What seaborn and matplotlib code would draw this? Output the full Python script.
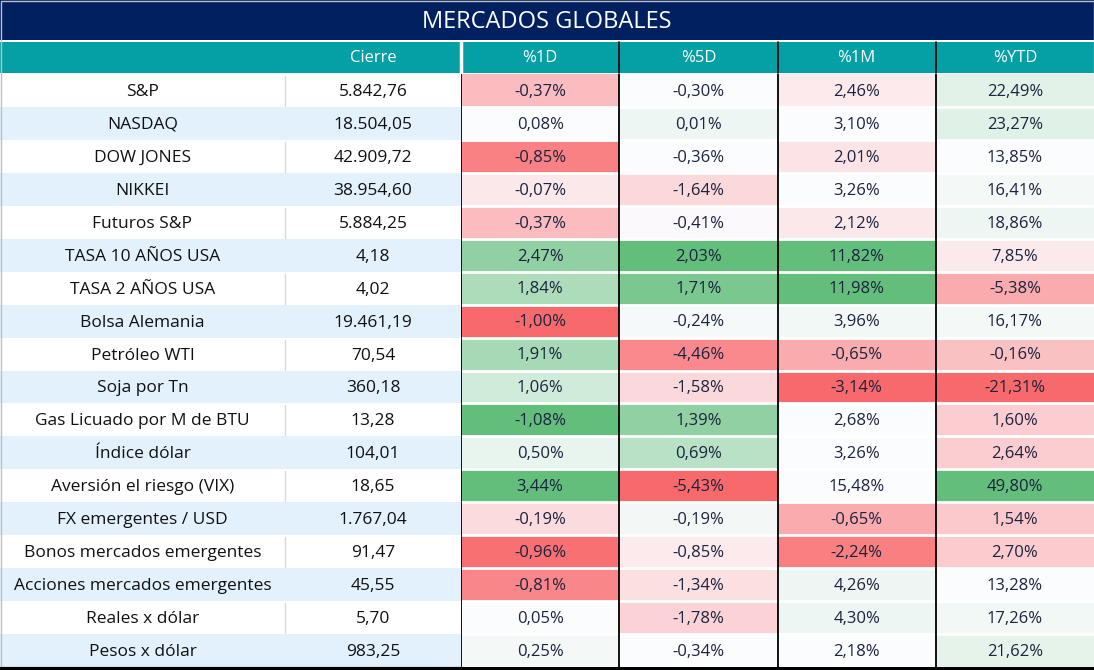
import numpy as np
import matplotlib
matplotlib.use("Agg")
import matplotlib.pyplot as plt
import seaborn as sns
from matplotlib.colors import LinearSegmentedColormap
from matplotlib.patches import Rectangle

sns.set_theme(style="white")
plt.rcParams['font.family'] = ['Open Sans', 'DejaVu Sans']

title = "MERCADOS GLOBALES"
columns = ["%1D", "%5D", "%1M", "%YTD"]
names = ["S&P", "NASDAQ", "DOW JONES", "NIKKEI", "Futuros S&P", "TASA 10 AÑOS USA",
         "TASA 2 AÑOS USA", "Bolsa Alemania", "Petróleo WTI", "Soja por Tn",
         "Gas Licuado por M de BTU", "Índice dólar", "Aversión el riesgo (VIX)",
         "FX emergentes / USD", "Bonos mercados emergentes", "Acciones mercados emergentes",
         "Reales x dólar", "Pesos x dólar"]
cierre = ["5.842,76", "18.504,05", "42.909,72", "38.954,60", "5.884,25", "4,18", "4,02",
          "19.461,19", "70,54", "360,18", "13,28", "104,01", "18,65", "1.767,04",
          "91,47", "45,55", "5,70", "983,25"]
pct_1d = ["-0,37%", "0,08%", "-0,85%", "-0,07%", "-0,37%", "2,47%", "1,84%", "-1,00%", "1,91%",
          "1,06%", "-1,08%", "0,50%", "3,44%", "-0,19%", "-0,96%", "-0,81%", "0,05%", "0,25%"]
pct_5d = ["-0,30%", "0,01%", "-0,36%", "-1,64%", "-0,41%", "2,03%", "1,71%", "-0,24%", "-4,46%",
          "-1,58%", "1,39%", "0,69%", "-5,43%", "-0,19%", "-0,85%", "-1,34%", "-1,78%", "-0,34%"]
pct_1m = ["2,46%", "3,10%", "2,01%", "3,26%", "2,12%", "11,82%", "11,98%", "3,96%", "-0,65%",
          "-3,14%", "2,68%", "3,26%", "15,48%", "-0,65%", "-2,24%", "4,26%", "4,30%", "2,18%"]
pct_ytd = ["22,49%", "23,27%", "13,85%", "16,41%", "18,86%", "7,85%", "-5,38%", "16,17%", "-0,16%",
           "-21,31%", "1,60%", "2,64%", "49,80%", "1,54%", "2,70%", "13,28%", "17,26%", "21,62%"]
# colour-scale intensity (-1 red ... 0 white ... +1 green)
shade_1d = [-0.43, 0.0, -0.83, -0.14, -0.43, 0.7, 0.52, -1.0, 0.56, 0.28, 1.0, 0.13, 1.0,
            -0.22, -0.95, -0.8, 0.0, 0.05]
shade_5d = [0.0, 0.1, 0.0, -0.25, -0.02, 1.0, 0.85, 0.04, -0.78, -0.25, 0.7, 0.43, -1.0,
            0.06, -0.12, -0.2, -0.28, 0.0]
shade_1m = [-0.12, 0.0, -0.17, 0.0, -0.14, 1.0, 1.0, 0.07, -0.55, -1.0, 0.0, 0.0, 0.0,
            -0.55, -0.85, 0.1, 0.1, 0.0]
shade_ytd = [0.17, 0.18, 0.0, 0.05, 0.1, -0.13, -0.55, 0.05, -0.4, -1.0, -0.32, -0.32, 1.0,
             -0.35, -0.33, 0.0, 0.07, 0.15]

W, H = 1094, 670
fig = plt.figure(figsize=(W / 100, H / 100), dpi=100)
bg = fig.add_axes([0, 0, 1, 1])
bg.set_xlim(0, W)
bg.set_ylim(H, 0)
bg.axis('off')

navy = "#002060"
teal = "#05A0A5"
lightblue = "#E3F1FC"
x_name, x_cierre, x_vals = 0, 285, 461
top_rows, bot_rows = 74, 667
n = len(names)
rh = (bot_rows - top_rows) / n
fs = 12.5

# title bar
bg.add_patch(Rectangle((0, 0), W, 40, color=navy, lw=0))
bg.text(W / 2, 21.5, title, color="white", fontsize=17, ha="center", va="center")

# header
hy, hh = 42, 31
bg.add_patch(Rectangle((0, hy), x_vals, hh, color=teal, lw=0))
bg.text((x_cierre + x_vals) / 2, hy + hh / 2 + 1, "Cierre", color="white", fontsize=12, ha="center", va="center")
cw = (W - x_vals) / len(columns)
for i, c in enumerate(columns):
    x0 = x_vals + i * cw
    bg.add_patch(Rectangle((x0, hy), cw, hh, color=teal, lw=0))
    bg.text(x0 + cw / 2, hy + hh / 2 + 1, c, color="white", fontsize=12, ha="center", va="center")
    if i > 0:
        bg.plot([x0, x0], [hy, hy + hh], color="black", lw=1.2)
bg.plot([x_vals - 0.5, x_vals - 0.5], [hy, hy + hh], color="white", lw=2.5)

# left rows
for r in range(n):
    y0 = top_rows + r * rh
    if r % 2 == 1:
        bg.add_patch(Rectangle((0, y0), x_vals, rh, color=lightblue, lw=0))
    else:
        bg.plot([x_cierre, x_cierre], [y0 + 2, y0 + rh - 1], color="#D9D9D9", lw=1)
    bg.text((x_name + x_cierre) / 2, y0 + rh / 2 + 1.5, names[r], color="#111111", fontsize=fs,
            ha="center", va="center")
    bg.text((x_cierre + x_vals) / 2, y0 + rh / 2 + 1.5, cierre[r], color="#111111", fontsize=fs,
            ha="center", va="center")

# heatmap of the value columns
shade = np.column_stack([shade_1d, shade_5d, shade_1m, shade_ytd])
labels = np.column_stack([pct_1d, pct_5d, pct_1m, pct_ytd])
cmap = LinearSegmentedColormap.from_list("xl", ["#F8696B", "#FCFCFF", "#63BE7B"])
hax = fig.add_axes([x_vals / W, (H - bot_rows) / H, (W - x_vals) / W, (bot_rows - top_rows) / H])
sns.heatmap(shade, cmap=cmap, vmin=-1, vmax=1, center=0, annot=labels, fmt="", cbar=False,
            ax=hax, linewidths=0, annot_kws=dict(fontsize=12, color="#1B2340"))
for t in hax.texts:
    x, y = t.get_position()
    t.set_position((x, y + 0.04))
hax.set_xticks([])
hax.set_yticks([])
for r in range(1, n):
    hax.axhline(r, color="white", lw=2)
for c in range(0, len(columns)):
    hax.axvline(c, color="black", lw=1.3)

# bottom border
bg.plot([0, W], [H - 1.5, H - 1.5], color="black", lw=3)
bg.add_patch(Rectangle((0.5, 0.5), W - 1, H - 1, fill=False, ec="#BFBFBF", lw=1))

fig.savefig("out.png", dpi=100)
